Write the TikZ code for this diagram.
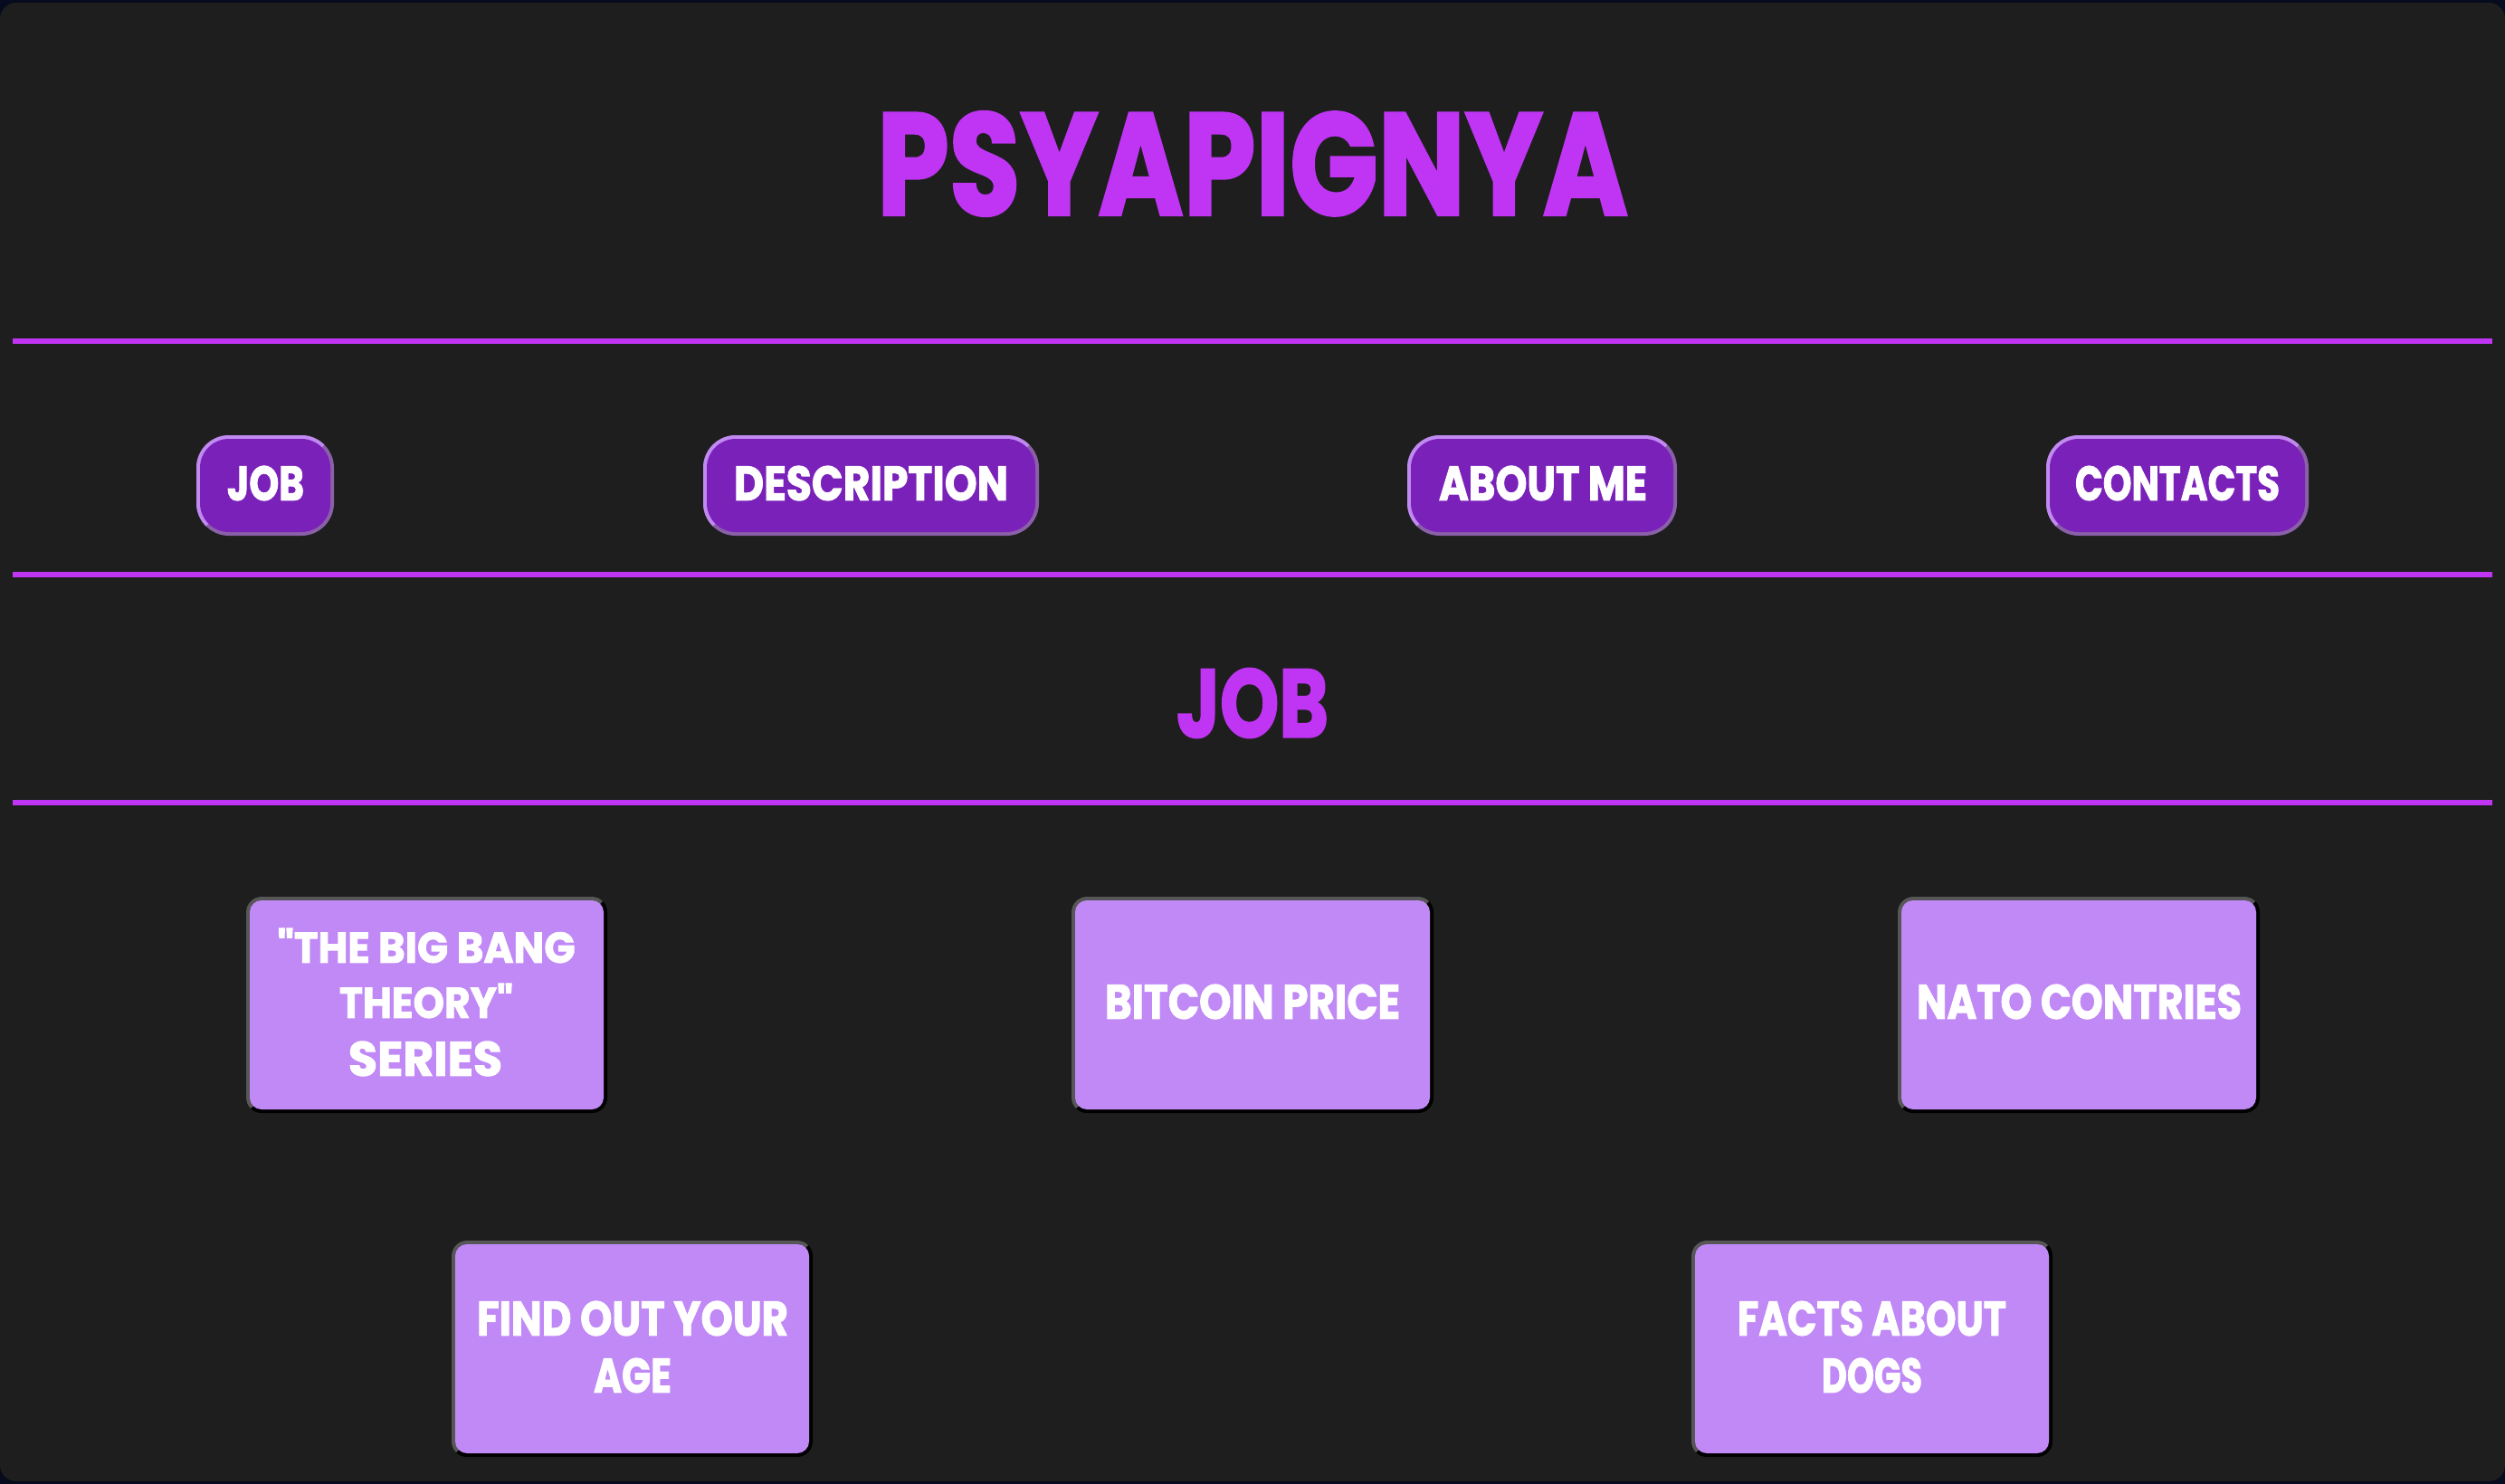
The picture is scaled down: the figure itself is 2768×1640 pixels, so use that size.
\documentclass[tikz,border=0pt]{standalone}
\usepackage{fontspec}
\usepackage{graphicx}
\newfontfamily\groovy{Poppins}[BoldFeatures={FakeBold=2}]
\definecolor{navyframe}{HTML}{060B1D}
\definecolor{pagebg}{HTML}{1E1E1E}
\definecolor{accent}{HTML}{BF35F3}
\definecolor{btnfill}{HTML}{7A21BA}
\definecolor{btnlight}{HTML}{C08AF0}
\definecolor{btndark}{HTML}{8A60A8}
\definecolor{cardfill}{HTML}{C089F6}
\definecolor{cardlight}{HTML}{575757}
\definecolor{carddark}{HTML}{000000}
\newcommand\gtxt[3]{\resizebox{#1pt}{#2pt}{\groovy\bfseries #3}}
% x1 y1 x2 y2 radius borderwidth light dark fill
\newcommand\bevelbox[9]{%
  \pgfmathsetmacro\bxa{#1}\pgfmathsetmacro\bya{#2}%
  \pgfmathsetmacro\bxb{#3}\pgfmathsetmacro\byb{#4}%
  \pgfmathsetmacro\bhh{(#4-#2)/2}\pgfmathsetmacro\bym{(#2+#4)/2}%
  \pgfmathsetmacro\bri{#5-#6}%
  \fill[#8, rounded corners=#5pt] (\bxa,\bya) rectangle (\bxb,\byb);
  \begin{scope}
    \clip (\bxa,\byb) -- (\bxa,\bya) -- (\bxb,\bya) -- ({\bxb-\bhh},\bym) -- ({\bxa+\bhh},\bym) -- cycle;
    \fill[#7, rounded corners=#5pt] (\bxa,\bya) rectangle (\bxb,\byb);
  \end{scope}
  \fill[#9, rounded corners=\bri pt] ({\bxa+#6},{\bya+#6}) rectangle ({\bxb-#6},{\byb-#6});
}
\newcommand\btnbox[4]{\bevelbox{#1}{#2}{#3}{#4}{36}{4}{btnlight}{btndark}{btnfill}}
\newcommand\cardbox[4]{\bevelbox{#1}{#2}{#3}{#4}{17}{4}{cardlight}{carddark}{cardfill}}
\tikzset{
  txt/.style={inner sep=0pt, outer sep=0pt, anchor=center},
  title/.style={txt, text=accent},
  label/.style={txt, text=white},
  rule/.style={draw=accent, line width=6pt}
}
\begin{document}
\begin{tikzpicture}[x=1pt,y=-1pt]
\useasboundingbox (0,0) rectangle (2768,1640);
\fill[navyframe] (0,0) rectangle (2768,1640);
\fill[pagebg, rounded corners=18pt] (0,3) rectangle (2768,1637);

% title
\node[title] (maintitle) at (1384,181) {\gtxt{830}{114}{PSYAPIGNYA}};

% rules
\coordinate (r1a) at (14,377); \coordinate (r1b) at (2754,377);
\coordinate (r2a) at (14,635); \coordinate (r2b) at (2754,635);
\coordinate (r3a) at (14,887); \coordinate (r3b) at (2754,887);
\draw[rule] (r1a) -- (r1b);
\draw[rule] (r2a) -- (r2b);
\draw[rule] (r3a) -- (r3b);

% nav buttons
\btnbox{217}{481}{369}{592}
\btnbox{777}{481}{1148}{592}
\btnbox{1555}{481}{1853}{592}
\btnbox{2261}{481}{2551}{592}
\node[label] (bjob) at (293.5,534) {\gtxt{85}{38}{JOB}};
\node[label] (bdesc) at (962.5,534) {\gtxt{303}{38}{DESCRIPTION}};
\node[label] (babout) at (1705,534) {\gtxt{230}{38}{ABOUT ME}};
\node[label] (bcont) at (2406,534) {\gtxt{226}{38}{CONTACTS}};

% section heading
\node[title] (jobhead) at (1384,777) {\gtxt{168}{76}{JOB}};

% cards
\cardbox{272}{991}{671}{1230}
\cardbox{1184}{991}{1584}{1230}
\cardbox{2097}{991}{2497}{1230}
\cardbox{499}{1371}{898}{1610}
\cardbox{1869}{1371}{2268}{1610}

\node[label] (c1a) at (471,1045) {\gtxt{329}{38}{"THE BIG BANG}};
\node[label] (c1b) at (471,1106) {\gtxt{192}{38}{THEORY"}};
\node[label] (c1c) at (470,1170) {\gtxt{170}{38}{SERIES}};
\node[label] (c2) at (1384,1107) {\gtxt{326}{38}{BITCOIN PRICE}};
\node[label] (c3) at (2297.5,1107) {\gtxt{359}{38}{NATO CONTRIES}};
\node[label] (c4a) at (699,1457) {\gtxt{344}{38}{FIND OUT YOUR}};
\node[label] (c4b) at (699,1520) {\gtxt{86}{38}{AGE}};
\node[label] (c5a) at (2068.5,1457) {\gtxt{297}{38}{FACTS ABOUT}};
\node[label] (c5b) at (2068.5,1520) {\gtxt{111}{38}{DOGS}};
\end{tikzpicture}
\end{document}
